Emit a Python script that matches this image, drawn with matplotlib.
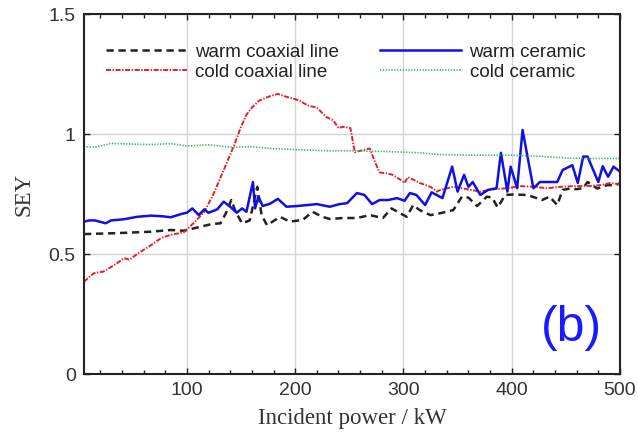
import matplotlib
matplotlib.use("Agg")
import matplotlib.pyplot as plt
from matplotlib.ticker import MultipleLocator

# warm coaxial line
wcx_x = [5, 35, 67, 85, 97, 113, 123, 131, 136, 141, 145, 151, 158, 165, 169, 174, 186, 195,
         207, 216, 225, 232, 244, 257, 269, 281, 289, 295, 303, 309, 315, 325, 334, 346, 354,
         360, 368, 377, 382, 387, 394, 401, 414, 423, 428, 435, 442, 447, 454, 460, 466, 470,
         479, 488, 495, 500]
wcx_y = [.583, .587, .593, .600, .597, .614, .625, .628, .670, .725, .676, .628, .640, .780, .662,
         .620, .655, .635, .642, .676, .655, .646, .650, .650, .662, .650, .690, .675, .655, .704,
         .683, .662, .670, .683, .739, .735, .700, .739, .735, .694, .746, .748, .746, .733, .725,
         .739, .704, .767, .773, .770, .775, .800, .773, .787, .787, .794]

# cold coaxial line
ccx_x = [5, 14, 23, 33, 42, 47, 54, 67, 76, 85, 97, 106, 116, 125, 134, 143, 150, 155, 160, 167,
         177, 184, 192, 204, 211, 220, 229, 235, 240, 244, 251, 255, 263, 269, 274, 278, 285, 290,
         297, 301, 304, 309, 315, 325, 331, 334, 346, 359, 371, 383, 396, 408, 420, 433, 445, 457,
         470, 482, 491, 500]
ccx_y = [.385, .420, .427, .454, .483, .476, .500, .537, .566, .580, .590, .628, .675, .754, .850,
         .946, 1.03, 1.08, 1.11, 1.14, 1.158, 1.167, 1.155, 1.14, 1.12, 1.11, 1.07, 1.058, 1.025,
         1.03, 1.025, .925, .933, .940, .880, .840, .836, .830, .810, .796, .820, .810, .796, .780,
         .760, .767, .780, .770, .760, .770, .774, .783, .780, .774, .780, .783, .783, .787, .796,
         .790]

# warm ceramic
wce_x = [5, 10, 15, 25, 30, 42, 54, 67, 78, 85, 95, 100, 105, 111, 116, 120, 128, 134, 140, 146,
         151, 155, 161, 163, 166, 170, 177, 184, 192, 202, 220, 232, 241, 248, 257, 264, 271, 278,
         286, 294, 301, 306, 312, 320, 326, 336, 345, 350, 356, 360, 364, 371, 378, 386, 390, 396,
         399, 405, 410, 420, 426, 442, 447, 456, 461, 466, 470, 480, 484, 489, 494, 500]
wce_y = [.635, .640, .640, .628, .640, .645, .655, .660, .657, .653, .667, .672, .690, .662, .686,
         .672, .686, .718, .697, .672, .690, .676, .800, .690, .740, .700, .710, .730, .697, .700,
         .708, .697, .708, .712, .754, .746, .708, .725, .725, .733, .722, .754, .746, .704, .757,
         .733, .864, .760, .830, .780, .800, .746, .767, .774, .922, .760, .864, .774, 1.017, .774,
         .800, .800, .850, .870, .796, .906, .906, .800, .866, .822, .864, .843]

# cold ceramic
cce_x = [5, 15, 30, 50, 67, 85, 100, 120, 140, 160, 176, 200, 230, 260, 290, 315, 330, 360, 400,
         430, 450, 470, 500]
cce_y = [.947, .945, .961, .958, .956, .960, .950, .955, .945, .947, .940, .935, .930, .930, .926,
         .922, .915, .912, .912, .906, .900, .898, .898]

fig = plt.figure(figsize=(6.38, 4.42), dpi=100)
ax = fig.add_axes([0.1317, 0.1538, 0.8401, 0.8145])

ax.plot(wcx_x, wcx_y, color='#222222', linewidth=1.8, dashes=(2.9, 1.9), label='warm coaxial line')
ax.plot(ccx_x, ccx_y, color='#e0202a', linewidth=1.4, dashes=(2.6, 0.8, 0.7, 0.8), label='cold coaxial line')
ax.plot(wce_x, wce_y, color='#1010e0', linewidth=1.8, label='warm ceramic')
ax.plot(cce_x, cce_y, color='#3cb46e', linewidth=1.2, dashes=(0.8, 0.9), label='cold ceramic')

ax.set_xlim(5, 500)
ax.set_ylim(0, 1.5)
ax.set_xticks([100, 200, 300, 400, 500])
ax.set_yticks([0, 0.5, 1, 1.5])
ax.set_yticklabels(['0', '0.5', '1', '1.5'])
ax.xaxis.set_minor_locator(MultipleLocator(20))
ax.tick_params(which='both', direction='in', top=True, right=True, colors='#222222',
               labelcolor='#333333', labelsize=14, pad=6)
ax.tick_params(which='major', length=4, width=1)
ax.tick_params(which='minor', length=3, width=1)
for lab in ax.get_xticklabels() + ax.get_yticklabels():
    lab.set_family('Liberation Sans')
ax.grid(True, which='major', color='#d4d4d4', linewidth=1)
for s in ax.spines.values():
    s.set_linewidth(1.5)
    s.set_color('#222222')

ax.set_xlabel('Incident power / kW', family='Liberation Serif', fontsize=16.5, color='#333333', labelpad=6)
ax.set_ylabel('SEY', family='Liberation Serif', fontsize=16.5, color='#333333', labelpad=10)

leg = ax.legend(loc='upper left', bbox_to_anchor=(0.01, 0.964), ncol=2, frameon=False,
                prop={'family': 'Liberation Sans', 'size': 13.5}, handlelength=4.3,
                handletextpad=0.45, columnspacing=2.2, labelspacing=0.15)
for t in leg.get_texts():
    t.set_color('#222222')

ax.text(0.91, 0.128, '(b)', transform=ax.transAxes, ha='center', va='center',
        fontsize=36, color='#1a1aff', family='Liberation Sans')

fig.savefig('out.png', dpi=100)
